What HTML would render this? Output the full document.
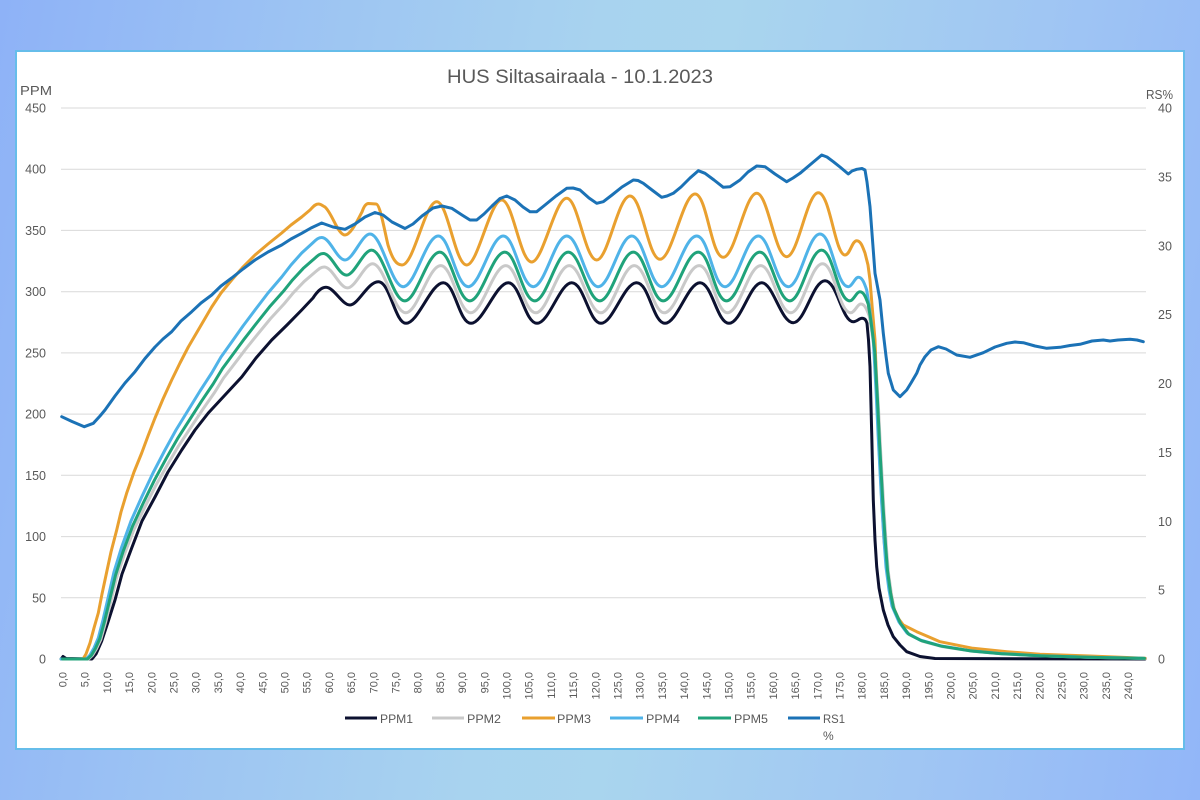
<!DOCTYPE html>
<html>
<head>
<meta charset="utf-8">
<style>
html,body{margin:0;padding:0;}
body{width:1200px;height:800px;overflow:hidden;
background:linear-gradient(100deg,#8eb2f7 0%,#9cc3f3 22%,#a8d3ef 45%,#a9d5ee 55%,#a0c6f3 78%,#92b6f8 100%);}
svg{position:absolute;left:0;top:0;}
text{font-family:"Liberation Sans",Arial,sans-serif;fill:#595959;}
</style>
</head>
<body>
<svg width="1200" height="800" viewBox="0 0 1200 800" xmlns="http://www.w3.org/2000/svg">
<rect x="16" y="51" width="1168" height="698" fill="#ffffff" stroke="#66bdea" stroke-width="2"/>

<text x="580" y="83" font-size="19" text-anchor="middle" textLength="266" lengthAdjust="spacingAndGlyphs">HUS Siltasairaala - 10.1.2023</text>

<text x="20" y="95" font-size="13" textLength="32" lengthAdjust="spacingAndGlyphs">PPM</text>
<text x="1146" y="99" font-size="13" textLength="27" lengthAdjust="spacingAndGlyphs">RS%</text>

<g stroke="#d9d9d9" stroke-width="1">
<line x1="61" y1="108" x2="1146" y2="108"/>
<line x1="61" y1="169.2" x2="1146" y2="169.2"/>
<line x1="61" y1="230.4" x2="1146" y2="230.4"/>
<line x1="61" y1="291.7" x2="1146" y2="291.7"/>
<line x1="61" y1="352.9" x2="1146" y2="352.9"/>
<line x1="61" y1="414.1" x2="1146" y2="414.1"/>
<line x1="61" y1="475.3" x2="1146" y2="475.3"/>
<line x1="61" y1="536.6" x2="1146" y2="536.6"/>
<line x1="61" y1="597.8" x2="1146" y2="597.8"/>
<line x1="61" y1="659" x2="1146" y2="659"/>
</g>

<g font-size="12.5" text-anchor="end">
<text x="46" y="112.5">450</text>
<text x="46" y="173.7">400</text>
<text x="46" y="234.9">350</text>
<text x="46" y="296.2">300</text>
<text x="46" y="357.4">250</text>
<text x="46" y="418.6">200</text>
<text x="46" y="479.8">150</text>
<text x="46" y="541.1">100</text>
<text x="46" y="602.3">50</text>
<text x="46" y="663.5">0</text>
</g>
<g font-size="12.5" text-anchor="start">
<text x="1158" y="112.5">40</text>
<text x="1158" y="181.4">35</text>
<text x="1158" y="250.3">30</text>
<text x="1158" y="319.1">25</text>
<text x="1158" y="388">20</text>
<text x="1158" y="456.9">15</text>
<text x="1158" y="525.8">10</text>
<text x="1158" y="594.6">5</text>
<text x="1158" y="663.5">0</text>
</g>

<g font-size="11" text-anchor="end">
<text transform="translate(62.5,672) rotate(-90)" dy="0.36em">0,0</text>
<text transform="translate(84.7,672) rotate(-90)" dy="0.36em">5,0</text>
<text transform="translate(106.9,672) rotate(-90)" dy="0.36em">10,0</text>
<text transform="translate(129.1,672) rotate(-90)" dy="0.36em">15,0</text>
<text transform="translate(151.3,672) rotate(-90)" dy="0.36em">20,0</text>
<text transform="translate(173.5,672) rotate(-90)" dy="0.36em">25,0</text>
<text transform="translate(195.7,672) rotate(-90)" dy="0.36em">30,0</text>
<text transform="translate(217.9,672) rotate(-90)" dy="0.36em">35,0</text>
<text transform="translate(240.1,672) rotate(-90)" dy="0.36em">40,0</text>
<text transform="translate(262.3,672) rotate(-90)" dy="0.36em">45,0</text>
<text transform="translate(284.5,672) rotate(-90)" dy="0.36em">50,0</text>
<text transform="translate(306.7,672) rotate(-90)" dy="0.36em">55,0</text>
<text transform="translate(328.9,672) rotate(-90)" dy="0.36em">60,0</text>
<text transform="translate(351.1,672) rotate(-90)" dy="0.36em">65,0</text>
<text transform="translate(373.3,672) rotate(-90)" dy="0.36em">70,0</text>
<text transform="translate(395.5,672) rotate(-90)" dy="0.36em">75,0</text>
<text transform="translate(417.7,672) rotate(-90)" dy="0.36em">80,0</text>
<text transform="translate(439.9,672) rotate(-90)" dy="0.36em">85,0</text>
<text transform="translate(462.1,672) rotate(-90)" dy="0.36em">90,0</text>
<text transform="translate(484.3,672) rotate(-90)" dy="0.36em">95,0</text>
<text transform="translate(506.5,672) rotate(-90)" dy="0.36em">100,0</text>
<text transform="translate(528.7,672) rotate(-90)" dy="0.36em">105,0</text>
<text transform="translate(550.9,672) rotate(-90)" dy="0.36em">110,0</text>
<text transform="translate(573.1,672) rotate(-90)" dy="0.36em">115,0</text>
<text transform="translate(595.3,672) rotate(-90)" dy="0.36em">120,0</text>
<text transform="translate(617.5,672) rotate(-90)" dy="0.36em">125,0</text>
<text transform="translate(639.7,672) rotate(-90)" dy="0.36em">130,0</text>
<text transform="translate(661.9,672) rotate(-90)" dy="0.36em">135,0</text>
<text transform="translate(684.1,672) rotate(-90)" dy="0.36em">140,0</text>
<text transform="translate(706.3,672) rotate(-90)" dy="0.36em">145,0</text>
<text transform="translate(728.5,672) rotate(-90)" dy="0.36em">150,0</text>
<text transform="translate(750.7,672) rotate(-90)" dy="0.36em">155,0</text>
<text transform="translate(772.9,672) rotate(-90)" dy="0.36em">160,0</text>
<text transform="translate(795.1,672) rotate(-90)" dy="0.36em">165,0</text>
<text transform="translate(817.3,672) rotate(-90)" dy="0.36em">170,0</text>
<text transform="translate(839.5,672) rotate(-90)" dy="0.36em">175,0</text>
<text transform="translate(861.7,672) rotate(-90)" dy="0.36em">180,0</text>
<text transform="translate(883.9,672) rotate(-90)" dy="0.36em">185,0</text>
<text transform="translate(906.1,672) rotate(-90)" dy="0.36em">190,0</text>
<text transform="translate(928.3,672) rotate(-90)" dy="0.36em">195,0</text>
<text transform="translate(950.5,672) rotate(-90)" dy="0.36em">200,0</text>
<text transform="translate(972.7,672) rotate(-90)" dy="0.36em">205,0</text>
<text transform="translate(994.9,672) rotate(-90)" dy="0.36em">210,0</text>
<text transform="translate(1017.1,672) rotate(-90)" dy="0.36em">215,0</text>
<text transform="translate(1039.3,672) rotate(-90)" dy="0.36em">220,0</text>
<text transform="translate(1061.5,672) rotate(-90)" dy="0.36em">225,0</text>
<text transform="translate(1083.7,672) rotate(-90)" dy="0.36em">230,0</text>
<text transform="translate(1105.9,672) rotate(-90)" dy="0.36em">235,0</text>
<text transform="translate(1128.1,672) rotate(-90)" dy="0.36em">240,0</text>
</g>

<g fill="none" stroke-width="3" stroke-linejoin="round" stroke-linecap="round">
<!-- PPM1 -->
<path stroke="#0c1130" d="M61,659 L63,656.5 L66,658.5 L92,659 L96,654 L101.7,641 L108,622 L115,600 L122,574 L131.7,548 L142,521 L155,497 L168,472 L181.7,450 L195,430 L208.3,413 L225,395 L241.7,377 L256,358 L271.7,340 L287,325 L301.7,310 L313,298 C317,292 321,287.3 326,287.3 C334,287.3 342,305 350,305 C358,305 368,281.7 378.3,281.7 C390,281.7 395,323.3 406,323.3 C418,323.3 431,282.7 443.3,282.7 C455,282.7 459,323.3 471,323.3 C483,323.3 496,282.7 508.3,282.7 C520,282.7 525,323.3 537,323.3 C549,323.3 560,282.7 571.7,282.7 C584,282.7 589,323.3 601,323.3 C613,323.3 624,282.7 636.7,282.7 C649,282.7 653,323.3 665,323.3 C677,323.3 688,282.7 700,282.7 C712,282.7 717,323.3 729,323.3 C741,323.3 750,282.7 761.7,282.7 C773,282.7 781,322.7 793.3,322.7 C805,322.7 813,280.7 825,280.7 C837,280.7 842,321.7 853.3,321.7 C857,321.7 859,318.3 862,318.3 C865,318.3 866,320 867,323.3 L868.5,340 L870,366.7 L871.7,433 L873.3,500 L875,540 L876.7,566.7 L879,588 L883.3,610 L888,625 L893.3,636.7 L900,645 L906.7,651.7 L920,656.5 L935,658.5 L1145,659"/>
<!-- PPM2 (scaled PPM4) -->
<path stroke="#c9c9c9" vector-effect="non-scaling-stroke" transform="matrix(1 0 0 0.93 2.5 46.13)" d="M61,659 L86,659 L90,655 L94,648 L98.3,638 L103,620 L108.3,597 L114,572 L121.7,547 L131,521 L141.7,497 L153,473 L165,450 L176,430 L188.3,410 L200,391 L211.7,373 L221,357 L231.7,342 L243,326 L255,310 L268,293 L281.7,277 L291,265 L301.7,253 L311,244.5 C316,240 318,237.5 321.7,237.5 C330,237.5 337,260 345,260 C353,260 362,234 370,234 C382,234 391,286.7 403.3,286.7 C415,286.7 426,236 438.3,236 C450,236 456,286.7 468.3,286.7 C480,286.7 491,236 503.3,236 C515,236 521,286.7 533.3,286.7 C545,286.7 555,236 566.7,236 C579,236 586,286.7 598.3,286.7 C610,286.7 620,236 631.7,236 C644,236 650,286.7 661.7,286.7 C674,286.7 684,236 696.7,236 C709,236 713,286.7 725,286.7 C737,286.7 746,236 758.3,236 C770,236 776,286.7 788.3,286.7 C800,286.7 808,234 820,234 C832,234 836,286.7 848.3,286.7 C852,286.7 855,277.3 858.3,277.3 C862,277.3 864,282 866.7,290 L869,305 L871,320 L873.3,340 L876,390 L878,433 L881.5,500 L884,540 L886,567 L889,590 L892,606 L899,622 L907,633 L920,640 L940,645.7 L970,650.7 L1000,653.5 L1040,655.7 L1090,657.3 L1143,658.3"/>
<!-- PPM3 -->
<path stroke="#e9a02f" d="M61,659 L83,659 L86,654 L90,643 L94,628 L98.3,613 L102,594 L106.7,572 L111,552 L116.7,530 L121,512 L126.7,493 L134,472 L141.7,453 L148,436 L155,418 L163,399 L171.7,380 L180,363 L188.3,347 L200,327 L211.7,307 L221,293 L231.7,280 L243,267 L255,255 L268,244 L281.7,233 L291,225 L301.7,217 L310,210 C313,207 315,204 318.3,204 C321,204 323,206 325,207 C332,213 338,235 345,235 C351,235 358,219 362,212 C364,206 366,203.5 368.5,203.5 L376,204 C380,204 384,228 388,245 C392,258 396,265 402,265 C414,265 425,201.7 436.7,201.7 C448,201.7 455,265 466.7,265 C478,265 490,200 501.7,200 C513,200 520,262 531.7,262 C543,262 555,198.3 566.7,198.3 C578,198.3 585,260 596.7,260 C608,260 618,196 630,196 C642,196 648,259.3 660,259.3 C672,259.3 683,194 695,194 C707,194 711,257.3 723.3,257.3 C735,257.3 745,193.3 756.7,193.3 C768,193.3 775,256.7 786.7,256.7 C798,256.7 807,192.7 818.3,192.7 C830,192.7 835,255 845,255 C850,255 852,240.7 856.7,240.7 C861,240.7 863,248 865,253 L868,265 L870,280 L872,305 L875,340 L878.3,433 L881.7,500 L884,540 L886.7,567 L890,590 L893.3,607 L898,618 L903.3,625 L916.7,631.7 L940,641.7 L973,648.3 L1007,651.7 L1040,654.3 L1090,656 L1133,657.7 L1145,658.3"/>
<!-- PPM4 -->
<path stroke="#4fb3e8" d="M61,659 L86,659 L90,655 L94,648 L98.3,638 L103,620 L108.3,597 L114,572 L121.7,547 L131,521 L141.7,497 L153,473 L165,450 L176,430 L188.3,410 L200,391 L211.7,373 L221,357 L231.7,342 L243,326 L255,310 L268,293 L281.7,277 L291,265 L301.7,253 L311,244.5 C316,240 318,237.5 321.7,237.5 C330,237.5 337,260 345,260 C353,260 362,234 370,234 C382,234 391,286.7 403.3,286.7 C415,286.7 426,236 438.3,236 C450,236 456,286.7 468.3,286.7 C480,286.7 491,236 503.3,236 C515,236 521,286.7 533.3,286.7 C545,286.7 555,236 566.7,236 C579,236 586,286.7 598.3,286.7 C610,286.7 620,236 631.7,236 C644,236 650,286.7 661.7,286.7 C674,286.7 684,236 696.7,236 C709,236 713,286.7 725,286.7 C737,286.7 746,236 758.3,236 C770,236 776,286.7 788.3,286.7 C800,286.7 808,234 820,234 C832,234 836,286.7 848.3,286.7 C852,286.7 855,277.3 858.3,277.3 C862,277.3 864,282 866.7,290 L869,305 L871,320 L873.3,340 L876,390 L878,433 L881.5,500 L884,540 L886,567 L889,590 L892,606 L899,622 L907,633 L920,640 L940,645.7 L970,650.7 L1000,653.5 L1040,655.7 L1090,657.3 L1143,658.3"/>
<!-- PPM5 (scaled PPM4) -->
<path stroke="#20a37a" vector-effect="non-scaling-stroke" transform="matrix(1 0 0 0.962 1.5 25.04)" d="M61,659 L86,659 L90,655 L94,648 L98.3,638 L103,620 L108.3,597 L114,572 L121.7,547 L131,521 L141.7,497 L153,473 L165,450 L176,430 L188.3,410 L200,391 L211.7,373 L221,357 L231.7,342 L243,326 L255,310 L268,293 L281.7,277 L291,265 L301.7,253 L311,244.5 C316,240 318,237.5 321.7,237.5 C330,237.5 337,260 345,260 C353,260 362,234 370,234 C382,234 391,286.7 403.3,286.7 C415,286.7 426,236 438.3,236 C450,236 456,286.7 468.3,286.7 C480,286.7 491,236 503.3,236 C515,236 521,286.7 533.3,286.7 C545,286.7 555,236 566.7,236 C579,236 586,286.7 598.3,286.7 C610,286.7 620,236 631.7,236 C644,236 650,286.7 661.7,286.7 C674,286.7 684,236 696.7,236 C709,236 713,286.7 725,286.7 C737,286.7 746,236 758.3,236 C770,236 776,286.7 788.3,286.7 C800,286.7 808,234 820,234 C832,234 836,286.7 848.3,286.7 C852,286.7 855,277.3 858.3,277.3 C862,277.3 864,282 866.7,290 L869,305 L871,320 L873.3,340 L876,390 L878,433 L881.5,500 L884,540 L886,567 L889,590 L892,606 L899,622 L907,633 L920,640 L940,645.7 L970,650.7 L1000,653.5 L1040,655.7 L1090,657.3 L1143,658.3"/>
<!-- RS1 -->
<path stroke="#1b72b6" d="M61.7,416.7 L72,421.5 L84.3,426.7 L93.3,423.3 L100,416 L105,410 L115,396 L125,383 L135,371.7 L145,358.5 L155,347 L163,339 L171.7,331.7 L181,321 L191.7,311.7 L201,303 L211.7,295 L221,286 L231.7,278 L243,269 L255,260 L268,252 L281.7,245 L291,239 L301.7,233.3 L311,228 L321.7,223 L333,227 L345,229.3 L355,224 L365,217 L375,212.5 L383,215 L392,222 L405,228.5 L413,224 L422,216 L433,208 L442,206 L451.7,208.3 L462,215 L470,220 L476.7,220 L484,214 L492,206 L500,198.5 L506.7,196 L515,200 L523,207 L530,211.7 L536.7,211.7 L545,205 L556,196 L566.7,188.3 L573,188 L580,190 L589,198 L596.7,203.3 L603.3,201.7 L612,195 L622,187 L633.3,180 L638,180.5 L643.3,183.3 L652,190 L661.7,197.3 L667,196 L673.3,193.3 L681,187 L690,178 L698.3,170.7 L705,173.3 L714,180 L723.3,187.3 L730,186.7 L740,180 L748,172 L756.7,166 L765,166.7 L775,174 L786.7,181.7 L793,178 L800,173.3 L811,164 L821.7,155 L827,157 L833.3,161.7 L840,167 L848.3,174 L852,171 L856.7,169.3 L862,168.5 L865,170 L867,182 L870,206.7 L872.5,240 L875,273.3 L880,300 L883.3,333.3 L886,356 L888.3,373.3 L893.3,390 L900,396.7 L906.7,390 L911,383 L916.7,373.3 L920,365 L925,356.7 L931,350 L938.3,346.7 L946,349 L956.7,355 L970,357.3 L983.3,352.7 L995,347 L1006.7,343.3 L1015,342 L1023.3,342.7 L1035,346 L1046.7,348.3 L1060,347.3 L1070,345.5 L1080,344.3 L1092,341 L1103.3,340 L1110,341 L1118,340 L1130,339.3 L1137,340 L1143.3,341.7"/>
</g>

<g stroke-width="3" stroke-linecap="butt">
<line x1="345" y1="718" x2="377" y2="718" stroke="#0c1130"/>
<line x1="432" y1="718" x2="464" y2="718" stroke="#c9c9c9"/>
<line x1="522" y1="718" x2="555" y2="718" stroke="#e9a02f"/>
<line x1="610" y1="718" x2="643" y2="718" stroke="#4fb3e8"/>
<line x1="698" y1="718" x2="731" y2="718" stroke="#20a37a"/>
<line x1="788" y1="718" x2="820" y2="718" stroke="#1b72b6"/>
</g>
<g font-size="12">
<text x="380" y="723" textLength="33" lengthAdjust="spacingAndGlyphs">PPM1</text>
<text x="467" y="723" textLength="34" lengthAdjust="spacingAndGlyphs">PPM2</text>
<text x="557" y="723" textLength="34" lengthAdjust="spacingAndGlyphs">PPM3</text>
<text x="646" y="723" textLength="34" lengthAdjust="spacingAndGlyphs">PPM4</text>
<text x="734" y="723" textLength="34" lengthAdjust="spacingAndGlyphs">PPM5</text>
<text x="823" y="723" textLength="22" lengthAdjust="spacingAndGlyphs">RS1</text>
<text x="823" y="740">%</text>
</g>
</svg>
</body>
</html>
